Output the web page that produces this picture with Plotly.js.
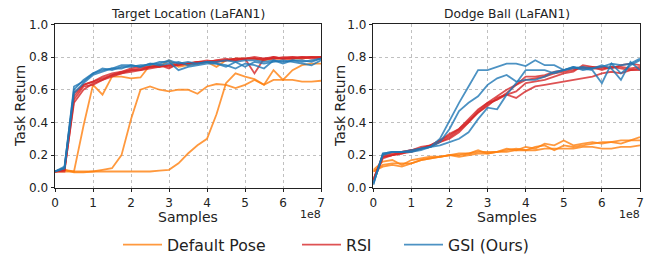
<!DOCTYPE html>
<html><head><meta charset="utf-8">
<script src="https://cdn.plot.ly/plotly-3.0.1.min.js"></script>
<style>html,body{margin:0;padding:0;background:#fff;overflow:hidden}#chart{width:652px;height:262px}</style>
</head><body><div id="chart"></div>
<script>
// samples (x 1e8)
const samples = [0,0.25,0.5,0.75,1,1.25,1.5,1.75,2,2.25,2.5,2.75,3,3.25,3.5,3.75,4,4.25,4.5,4.75,5,5.25,5.5,5.75,6,6.25,6.5,6.75,7];
const panelTitles = ["Target Location (LaFAN1)", "Dodge Ball (LaFAN1)"];
const methods = ["Default Pose", "RSI", "GSI (Ours)"];
const xTicks = [0,1,2,3,4,5,6,7];
const yTicks = [0,0.2,0.4,0.6,0.8,1.0];

// Target Location
const tlDefault = [
 [0.10,0.11,0.10,0.38,0.63,0.57,0.68,0.68,0.67,0.675,0.75,0.74,0.78,0.74,0.75,0.76,0.77,0.74,0.78,0.79,0.79,0.79,0.78,0.79,0.79,0.79,0.79,0.80,0.80],
 [0.10,0.10,0.10,0.10,0.10,0.11,0.12,0.20,0.42,0.60,0.62,0.60,0.59,0.60,0.60,0.575,0.62,0.635,0.63,0.61,0.63,0.66,0.63,0.66,0.66,0.66,0.65,0.65,0.655],
 [0.10,0.11,0.095,0.095,0.10,0.10,0.10,0.10,0.10,0.10,0.10,0.105,0.11,0.15,0.21,0.26,0.30,0.45,0.64,0.70,0.68,0.665,0.63,0.72,0.66,0.72,0.75,0.76,0.76]
];
const tlRSI = [
 [0.10,0.11,0.52,0.60,0.64,0.66,0.69,0.70,0.72,0.73,0.74,0.74,0.75,0.76,0.76,0.77,0.77,0.77,0.78,0.78,0.79,0.79,0.79,0.79,0.79,0.79,0.80,0.80,0.80],
 [0.10,0.11,0.56,0.63,0.65,0.67,0.69,0.71,0.72,0.72,0.74,0.75,0.74,0.75,0.76,0.76,0.77,0.78,0.78,0.79,0.79,0.70,0.79,0.80,0.79,0.80,0.79,0.80,0.80],
 [0.10,0.12,0.58,0.63,0.65,0.68,0.70,0.71,0.73,0.74,0.74,0.75,0.73,0.76,0.76,0.77,0.78,0.77,0.78,0.79,0.79,0.79,0.78,0.80,0.79,0.79,0.80,0.80,0.79],
 [0.10,0.10,0.54,0.62,0.63,0.66,0.68,0.70,0.71,0.72,0.73,0.74,0.75,0.75,0.76,0.77,0.77,0.78,0.79,0.78,0.79,0.80,0.79,0.79,0.80,0.80,0.80,0.79,0.80]
];
const tlGSI = [
 [0.10,0.13,0.60,0.66,0.70,0.72,0.73,0.75,0.75,0.74,0.76,0.76,0.78,0.76,0.77,0.76,0.77,0.77,0.78,0.77,0.78,0.78,0.77,0.78,0.77,0.78,0.78,0.77,0.79],
 [0.10,0.12,0.62,0.65,0.70,0.73,0.72,0.74,0.74,0.75,0.75,0.77,0.77,0.72,0.74,0.75,0.76,0.76,0.75,0.73,0.76,0.75,0.73,0.78,0.76,0.78,0.77,0.78,0.79],
 [0.10,0.12,0.58,0.64,0.69,0.71,0.73,0.73,0.75,0.74,0.76,0.75,0.76,0.77,0.75,0.76,0.77,0.76,0.74,0.77,0.74,0.77,0.76,0.77,0.78,0.77,0.76,0.75,0.78]
];
// Dodge Ball
const dbDefault = [
 [0.10,0.14,0.15,0.15,0.15,0.17,0.18,0.19,0.20,0.19,0.20,0.21,0.21,0.22,0.22,0.23,0.23,0.23,0.24,0.24,0.24,0.24,0.25,0.25,0.24,0.24,0.25,0.25,0.26],
 [0.10,0.13,0.14,0.13,0.15,0.17,0.18,0.19,0.20,0.20,0.21,0.23,0.21,0.22,0.23,0.24,0.23,0.25,0.26,0.23,0.26,0.25,0.26,0.27,0.28,0.28,0.27,0.29,0.29],
 [0.11,0.16,0.17,0.14,0.17,0.18,0.19,0.19,0.20,0.21,0.21,0.22,0.22,0.22,0.24,0.23,0.25,0.24,0.27,0.26,0.29,0.26,0.27,0.28,0.27,0.28,0.29,0.29,0.31]
];
const dbRSI = [
 [0.05,0.19,0.20,0.21,0.22,0.24,0.25,0.28,0.31,0.35,0.40,0.46,0.51,0.54,0.58,0.63,0.66,0.67,0.68,0.70,0.71,0.72,0.74,0.73,0.73,0.74,0.74,0.73,0.74],
 [0.05,0.20,0.21,0.22,0.23,0.24,0.26,0.28,0.30,0.34,0.40,0.47,0.52,0.56,0.60,0.63,0.68,0.68,0.69,0.71,0.72,0.73,0.73,0.74,0.74,0.73,0.75,0.76,0.75],
 [0.04,0.18,0.20,0.21,0.23,0.24,0.26,0.29,0.33,0.36,0.41,0.46,0.50,0.55,0.57,0.59,0.64,0.65,0.66,0.68,0.70,0.71,0.75,0.74,0.72,0.74,0.73,0.72,0.72],
 [0.05,0.19,0.20,0.22,0.23,0.25,0.26,0.29,0.32,0.36,0.42,0.48,0.52,0.54,0.57,0.55,0.59,0.62,0.63,0.64,0.65,0.66,0.67,0.68,0.70,0.71,0.70,0.72,0.73]
];
const dbGSI = [
 [0.02,0.21,0.22,0.22,0.22,0.24,0.25,0.30,0.41,0.52,0.62,0.72,0.72,0.74,0.76,0.76,0.745,0.78,0.75,0.75,0.72,0.74,0.72,0.73,0.74,0.76,0.75,0.76,0.79],
 [0.02,0.21,0.22,0.22,0.22,0.23,0.25,0.28,0.36,0.47,0.52,0.56,0.63,0.67,0.69,0.65,0.66,0.66,0.68,0.71,0.72,0.74,0.73,0.72,0.64,0.76,0.70,0.75,0.78],
 [0.03,0.20,0.22,0.22,0.23,0.24,0.25,0.26,0.28,0.30,0.34,0.42,0.49,0.48,0.57,0.64,0.72,0.72,0.72,0.70,0.72,0.73,0.74,0.73,0.75,0.73,0.66,0.77,0.72]
];

const colors = {"Default Pose":"#ff7f0e","RSI":"#d62728","GSI (Ours)":"#1f77b4"};
const legendIds = {"Default Pose":"legend","RSI":"legend2","GSI (Ours)":"legend3"};
const panels = [
  {xa:"x", ya:"y", runs:{"Default Pose":tlDefault,"RSI":tlRSI,"GSI (Ours)":tlGSI}},
  {xa:"x2", ya:"y2", runs:{"Default Pose":dbDefault,"RSI":dbRSI,"GSI (Ours)":dbGSI}}
];
const traces = [];
const shown = {};
panels.forEach(p => {
  methods.forEach(m => {
    p.runs[m].forEach(r => {
      traces.push({x:samples, y:r, xaxis:p.xa, yaxis:p.ya, type:"scatter", mode:"lines",
        name:m, legendgroup:m, legend:legendIds[m], showlegend:!shown[m], opacity:0.8,
        line:{color:colors[m], width:1.8}, hoverinfo:"skip"});
      shown[m] = true;
    });
  });
});

const W=652, H=262;
const px = v => v/W, py = v => 1 - v/H;
const axisCommon = {
  showline:true, mirror:true, linecolor:"#222", linewidth:1,
  ticks:"outside", ticklen:3.5, tickwidth:1, tickcolor:"#222",
  showgrid:true, gridcolor:"#b0b0b0", griddash:"dot", gridwidth:0.8,
  zeroline:false, tickfont:{family:"DejaVu Sans", size:12, color:"#222"}
};
const xax = (dom, anchor) => Object.assign({}, axisCommon, {domain:dom, anchor:anchor, range:[0,7],
  tickvals:xTicks, ticktext:xTicks.map(String)});
const yax = (anchor) => Object.assign({}, axisCommon, {domain:[py(193), py(25)], anchor:anchor, range:[0,1],
  tickvals:yTicks, ticktext:yTicks.map(v=>v.toFixed(1))});

const ann = [];
const lefts = [55, 373.3], rights = [321, 640];
[0,1].forEach(i => {
  const c = (lefts[i]+rights[i])/2;
  ann.push({text:panelTitles[i], x:px(c), y:py(14.5), xref:"paper", yref:"paper", showarrow:false,
    font:{family:"DejaVu Sans", size:12.3, color:"#222"}, xanchor:"center", yanchor:"middle", borderpad:0});
  ann.push({text:"Samples", x:px(c), y:py(223), xref:"paper", yref:"paper", showarrow:false,
    font:{family:"DejaVu Sans", size:14, color:"#222"}, xanchor:"center", yanchor:"middle", borderpad:0});
  ann.push({text:"1e8", x:px(rights[i]+1), y:py(220), xref:"paper", yref:"paper", showarrow:false,
    font:{family:"DejaVu Sans", size:11, color:"#222"}, xanchor:"right", yanchor:"middle", borderpad:0});
  ann.push({text:"Task Return", x:px(i===0?20:340), y:py(109), xref:"paper", yref:"paper", showarrow:false,
    textangle:-90, font:{family:"DejaVu Sans", size:14, color:"#222"}, xanchor:"center", yanchor:"middle", borderpad:0});
});

const legBase = {orientation:"h", xanchor:"left", yanchor:"middle", y:py(252), itemwidth:39,
  font:{family:"DejaVu Sans", size:15.7, color:"#222"}, bgcolor:"rgba(0,0,0,0)", borderwidth:0};
const layout = {
  width:W, height:H, margin:{l:0,r:0,t:0,b:0}, paper_bgcolor:"#fff", plot_bgcolor:"#fff",
  showlegend:true,
  legend:Object.assign({}, legBase, {x:px(118)}),
  legend2:Object.assign({}, legBase, {x:px(297)}),
  legend3:Object.assign({}, legBase, {x:px(399)}),
  xaxis:xax([px(55), px(321)], "y"),
  yaxis:yax("x"),
  xaxis2:xax([px(373.3), px(640)], "y2"),
  yaxis2:yax("x2"),
  annotations:ann
};
Plotly.newPlot("chart", traces, layout, {displayModeBar:false, staticPlot:true});
</script></body></html>
